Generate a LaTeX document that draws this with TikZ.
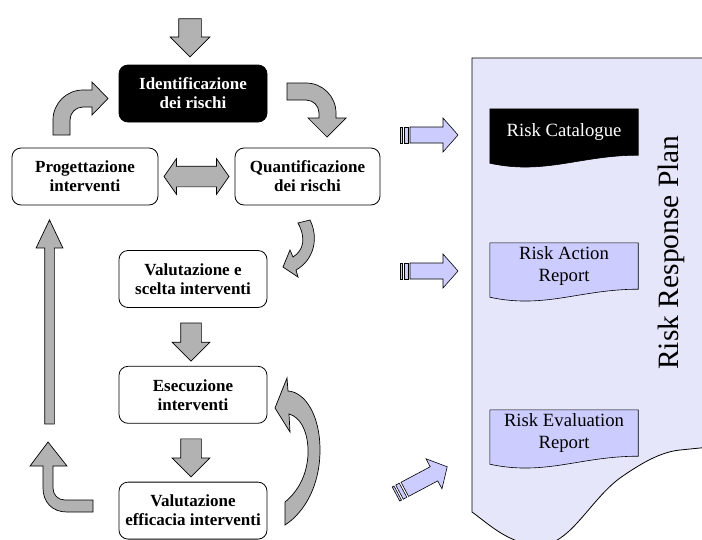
\documentclass[tikz,border=0pt]{standalone}
\usepackage{fontspec}
\setmainfont{Liberation Serif}
\usetikzlibrary{positioning, calc, shapes.arrows, backgrounds}
\definecolor{arrgray}{RGB}{178,178,178}
\definecolor{planbg}{RGB}{230,230,250}
\definecolor{docblue}{RGB}{204,204,255}
\tikzset{box/.style={draw, rounded corners=9pt, line width=0.8pt, minimum width=148pt, minimum height=57pt, inner sep=2pt, align=center, font=\bfseries\fontsize{17}{19}\selectfont}}
\tikzset{garrow/.style={draw, fill=arrgray, line width=0.7pt}}
\tikzset{downarr/.style={garrow, single arrow, inner xsep=0pt, inner ysep=10pt, single arrow tip angle=90, single arrow head extend=8.5pt, minimum width=37pt, minimum height=38pt, rotate=-90}}
\tikzset{doc/.style={minimum width=148pt, minimum height=46pt, inner sep=0pt, align=center, font=\fontsize{18.7}{21.5}\selectfont}}
\tikzset{striped/.pic={
    \draw[fill=docblue, line width=0.6pt] (0,-8) rectangle (2,8);
    \draw[fill=docblue, line width=0.6pt] (4,-8) rectangle (8,8);
    \draw[fill=docblue, line width=0.6pt] (10,-8) -- (43,-8) -- (43,-17) -- (58,0) -- (43,17) -- (43,8) -- (10,8) -- cycle;
}}
\newcommand{\docwave}[2]{\draw[line width=0.6pt, #2] (#1.north west) -- (#1.north east) -- (#1.south east) .. controls ([xshift=-58pt]#1.south east) and ([xshift=55pt,yshift=-20pt]#1.south west) .. ([yshift=-8pt]#1.south west) -- cycle;}

\begin{document}
\begin{tikzpicture}[x=1pt, y=-1pt]
\useasboundingbox (0,0) rectangle (702,539);

% cycle of the stages
\node[box, fill=black, text=white] (ident) at (193,93.5) {Identificazione\\dei rischi};
\node[box, minimum width=146pt] (prog) at (85,176.5) {Progettazione\\interventi};
\node[box, minimum width=145pt] (quant) at (307.5,176.5) {Quantificazione\\dei rischi};
\node[box] (valsc) at (193,279) {Valutazione e\\scelta interventi};
\node[box, below=58pt of valsc] (esec) {Esecuzione\\interventi};
\node[box, below=58pt of esec] (valeff) {Valutazione\\efficacia interventi};

% straight arrows
\node[downarr, inner ysep=11pt, minimum width=39pt] (a0) at ($(ident.north)+(-3,-32.5)$) {};
\node[downarr] (a1) at ($(valsc.south)!0.5!(esec.north)+(-2,0)$) {};
\node[downarr] (a2) at ($(esec.south)!0.5!(valeff.north)+(-2,0)$) {};
\node[garrow, double arrow, inner xsep=0pt, inner ysep=10pt, double arrow tip angle=110, double arrow head extend=7.5pt, minimum width=35pt, minimum height=65pt] (a3) at ($(prog.east)!0.5!(quant.west)$) {};
\node[garrow, single arrow, inner xsep=0pt, inner ysep=4.5pt, single arrow tip angle=51, single arrow head extend=8.5pt, minimum width=26pt, minimum height=204pt, rotate=90] (aup) at (49.5,327) {};

% curved arrows
\draw[garrow] (53,135) -- (53,120) .. controls (53,103.4) and (66.4,90) .. (83,90) -- (92,90) -- (92,82) -- (108,98.5) -- (92,115) -- (92,107) -- (83,107) .. controls (75.8,107) and (70,112.8) .. (70,120) -- (70,135) -- cycle;
\draw[garrow] (287,83) -- (306,83) .. controls (322.6,83) and (336,96.4) .. (336,113) -- (336,118) -- (346,118) -- (327,137) -- (308,118) -- (319,118) -- (319,113) .. controls (319,105.8) and (313.2,100) .. (306,100) -- (287,100) -- cycle;
\draw[garrow] (298,223) -- (310,220) .. controls (319,238) and (314,260) .. (296,270) -- (298,277) -- (283,267) -- (290,250) -- (293,257) .. controls (304,250) and (306,238) .. (298,223) -- cycle;
\draw[garrow] (93,500) -- (65,500) .. controls (58,500) and (53,495) .. (53,488) -- (53,466) -- (67,466) -- (48,442) -- (30,466) -- (43,466) -- (43,488) .. controls (43,502) and (52,512) .. (67,512) -- (93,512) -- cycle;
\draw[garrow] (285,502) .. controls (300,490) and (309,470) .. (308,448) .. controls (307,430) and (300,417) .. (289,414) -- (290,432) -- (275,408) -- (287,378) -- (288,391) .. controls (305,392) and (320,415) .. (320,450) .. controls (320,485) and (305,512) .. (285,525) -- cycle;

% risk response plan
\node[doc, text=white] (cat) at (564,132) {Risk Catalogue};
\node[doc] (act) at (564,266) {Risk Action\\Report};
\node[doc] (evalr) at (564,433) {Risk Evaluation\\Report};
\node[rotate=90, anchor=base, inner sep=0pt, font=\fontsize{29.5}{34}\selectfont] (plan) at (678,252.5) {Risk Response Plan};

\pic at (400,135) {striped};
\pic at (400,271) {striped};
\pic[rotate=28] at (396,494) {striped};

\begin{scope}[on background layer]
    \clip (0,0) rectangle (702,539);
    \filldraw[fill=planbg, line width=0.8pt] (710,58) -- (472,58) -- (472,512) .. controls (490,525) and (510,545) .. (540,545) .. controls (570,545) and (590,500) .. (620,478) .. controls (640,464) and (660,452) .. (680,450) -- (710,447) -- cycle;
    \docwave{cat}{fill=black}
    \docwave{act}{fill=docblue}
    \docwave{evalr}{fill=docblue}
\end{scope}
\end{tikzpicture}
\end{document}
